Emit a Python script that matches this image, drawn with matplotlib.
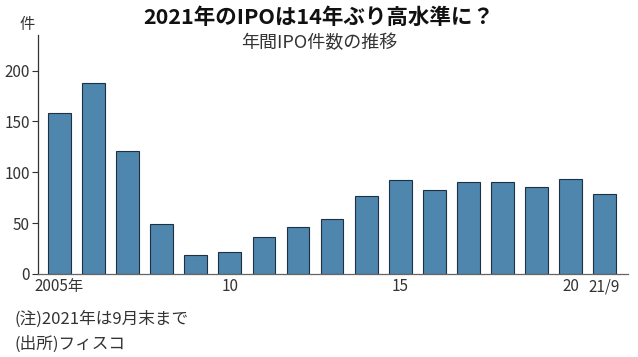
import matplotlib.pyplot as plt

plt.rcParams['font.family'] = ['Noto Sans CJK JP', 'DejaVu Sans']

# 年間IPO件数
years = ["2005年", "06", "07", "08", "09", "10", "11", "12", "13", "14",
         "15", "16", "17", "18", "19", "20", "21/9"]
counts = [158, 188, 121, 49, 19, 22, 36, 46, 54, 77, 92, 83, 90, 90, 86, 93, 79]
shown_labels = {"2005年": "2005年", "10": "10", "15": "15", "20": "20", "21/9": "21/9"}

fig = plt.figure(figsize=(6.38, 3.57), dpi=100)
ax = fig.add_axes([0.0596, 0.2325, 0.9244, 0.6695])

x = list(range(len(years)))
ax.bar(x, counts, width=0.67, color="#4f86ad", edgecolor="#1f3040", linewidth=0.8)

ax.set_xlim(-0.63, 16.68)
ax.set_ylim(0, 235)
ax.set_yticks([0, 50, 100, 150, 200])
ax.tick_params(axis="y", length=4, width=0.8, colors="#333333", labelsize=11, pad=2)
ax.set_xticks(x)
ax.set_xticklabels([shown_labels.get(y, "") for y in years])
ax.tick_params(axis="x", length=0, labelsize=11, colors="#333333", pad=3)

for s in ["top", "right"]:
    ax.spines[s].set_visible(False)
ax.spines["left"].set_color("#333333")
ax.spines["bottom"].set_color("#666666")
ax.spines["left"].set_linewidth(0.9)
ax.spines["bottom"].set_linewidth(0.9)

fig.text(0.499, 0.952, "2021年のIPOは14年ぶり高水準に？", ha="center", va="center",
         fontsize=15.5, fontweight="bold", color="#111111")
fig.text(0.5, 0.879, "年間IPO件数の推移", ha="center", va="center",
         fontsize=13, color="#333333")
fig.text(0.042, 0.932, "件", ha="center", va="center", fontsize=11, color="#333333")
fig.text(0.022, 0.105, "(注)2021年は9月末まで", ha="left", va="center",
         fontsize=12, color="#333333")
fig.text(0.022, 0.035, "(出所)フィスコ", ha="left", va="center",
         fontsize=12, color="#333333")

plt.savefig("out.png", dpi=100)
plt.close()
